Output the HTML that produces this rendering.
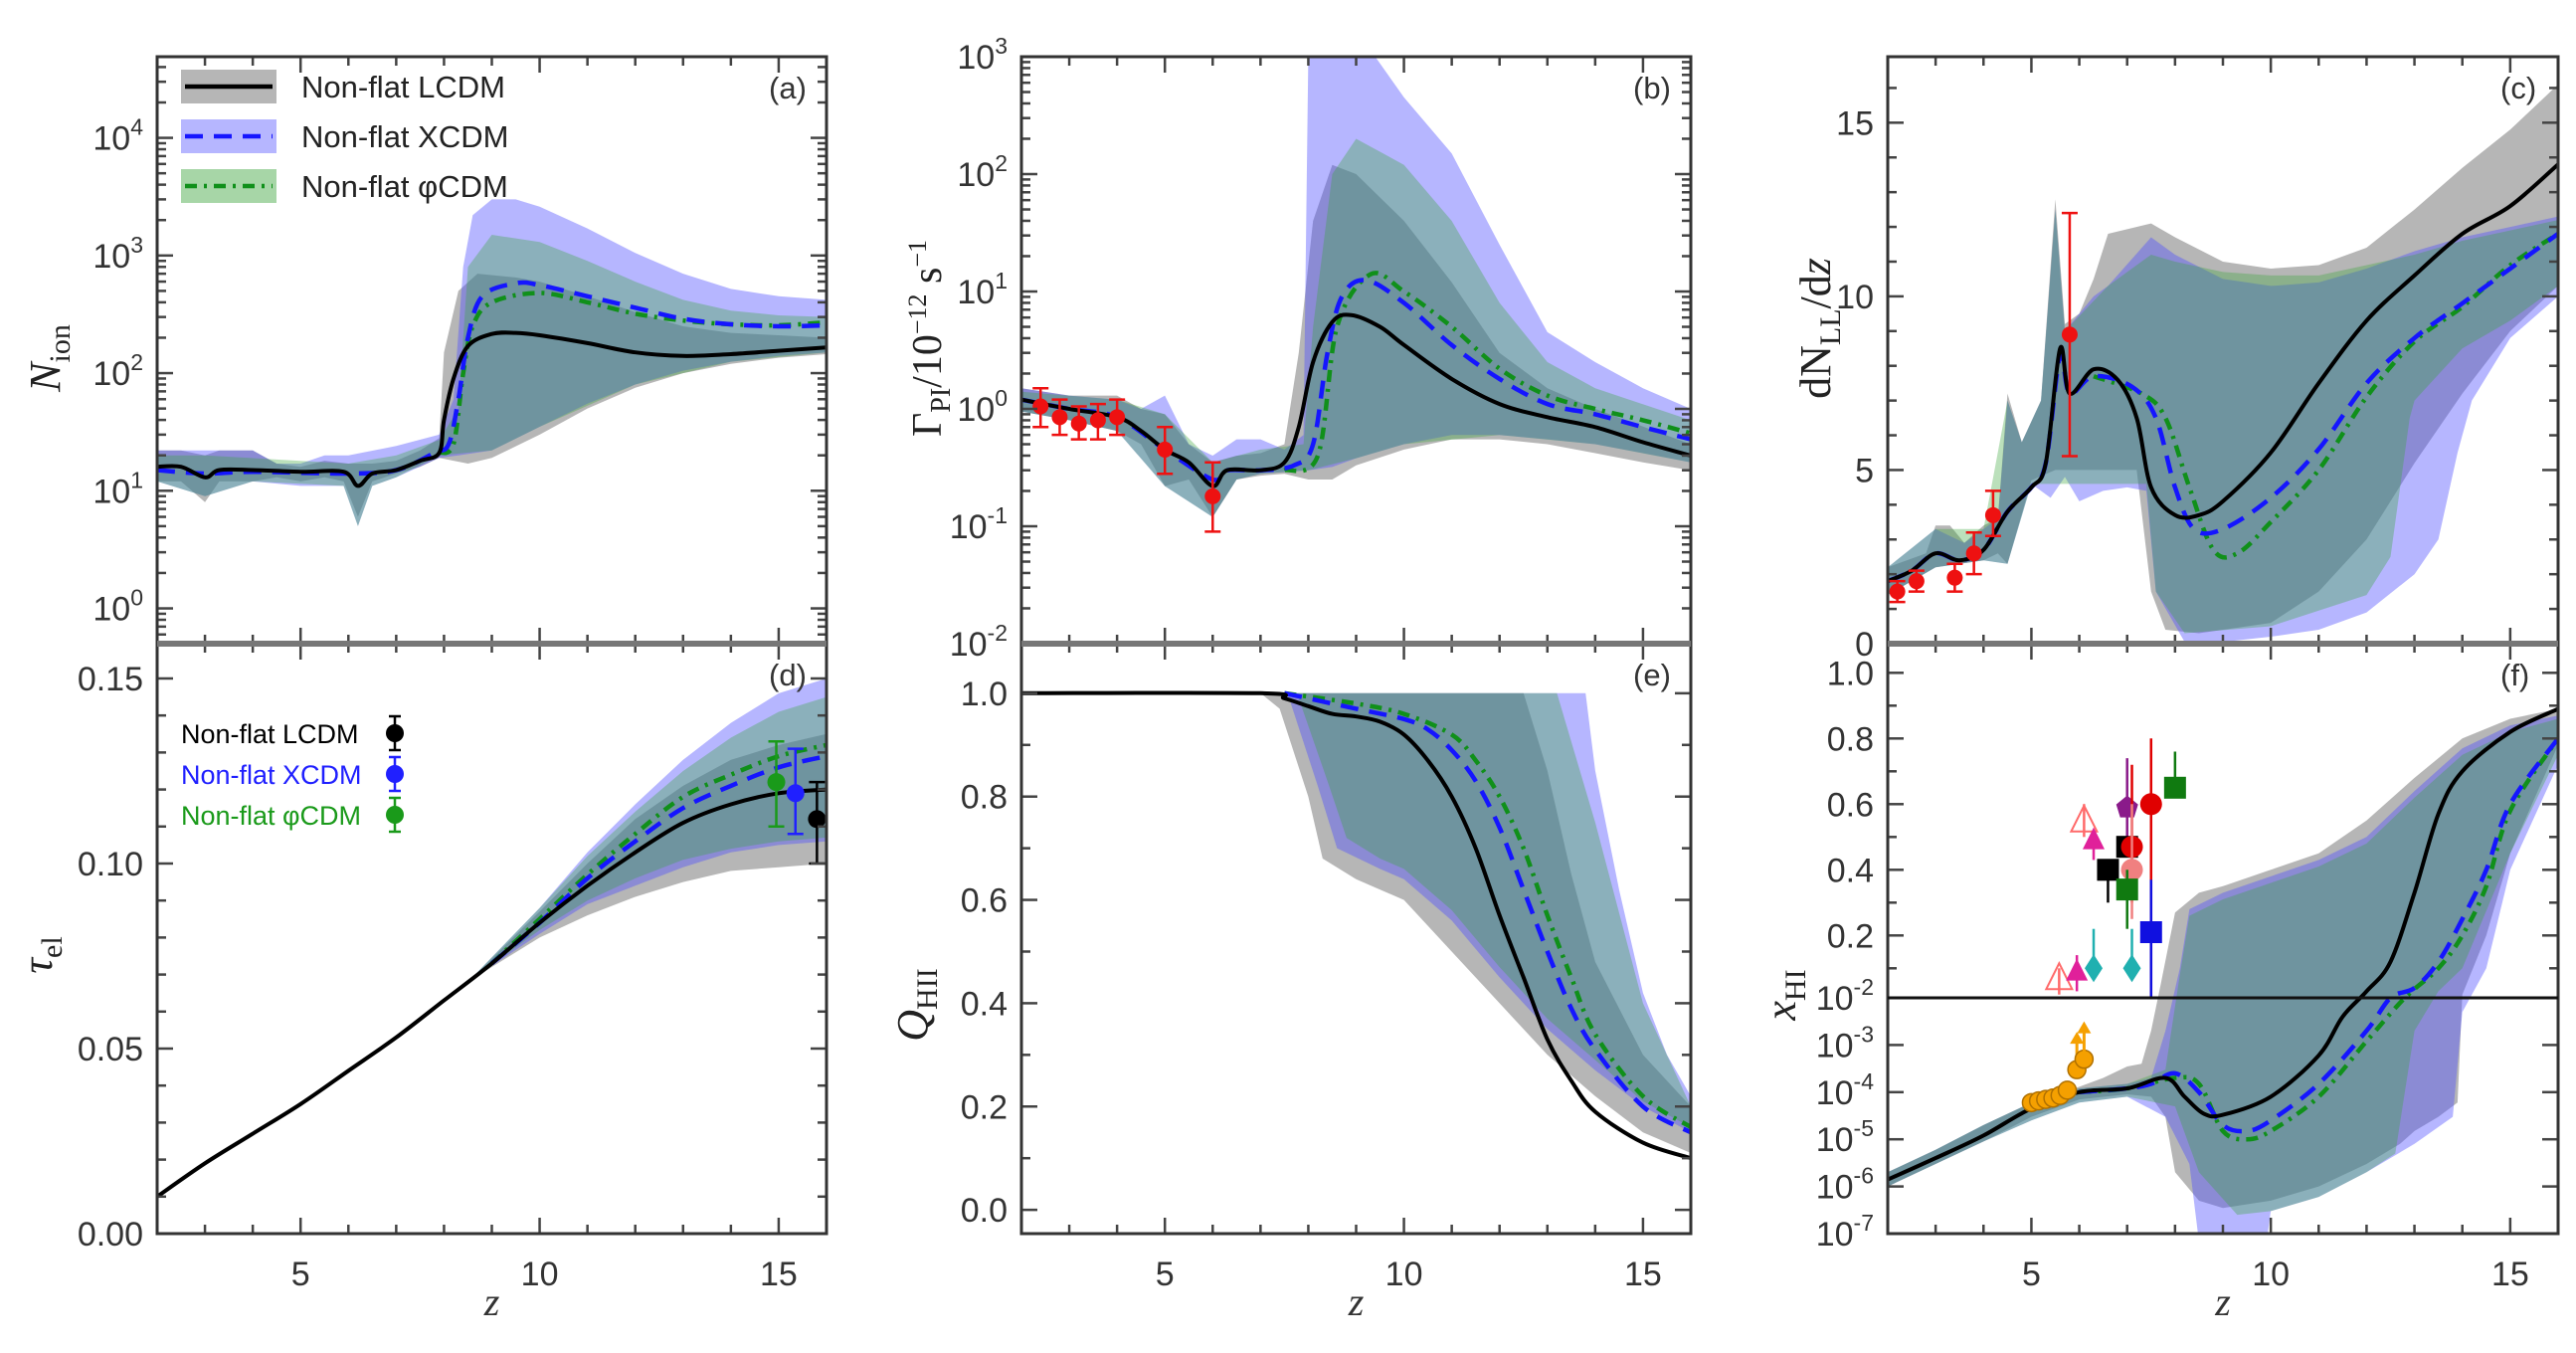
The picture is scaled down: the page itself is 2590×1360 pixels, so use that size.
<!DOCTYPE html>
<html><head><meta charset="utf-8"><style>
html,body{margin:0;padding:0;background:#fff;}
svg{display:block;font-family:"Liberation Sans",sans-serif;}
</style></head><body>
<svg id="fig" width="2590" height="1360" viewBox="0 0 2590 1360" xmlns="http://www.w3.org/2000/svg"></svg>
<script>
// ===== DATA =====
const zTicksMajor = [5, 10, 15];
// panel a: N_ion
const aLcdm = [[2,16],[2.5,16],[3,13],[3.3,15],[4,15],[5,14.5],[5.9,14.5],[6.2,11],[6.5,14],[7,15],[7.5,18],[7.9,21],[8.0,40],[8.2,90],[8.5,170],[9,215],[9.5,220],[10,210],[11,180],[12,150],[13,140],[14,145],[15,155],[16,165]];
const aXcdm = [[2,15],[3,14],[4,14.5],[6,14],[7,15],[7.8,21],[8.1,25],[8.3,60],[8.5,200],[8.8,450],[9.5,580],[10,560],[11,450],[12,360],[13,290],[14,260],[15,250],[16,255]];
const aPhi = [[7.9,21],[8.2,25],[8.4,100],[8.6,250],[9,400],[10,480],[11,400],[12,320],[13,280],[14,260],[15,255],[16,270]];
const aGrayHi = [[2,22],[2.5,22],[3,20],[3.3,22],[4,22],[4.5,17],[5,16],[5.5,18],[6,17],[6.5,17],[7,18],[7.5,22],[7.9,28],[8.0,150],[8.3,500],[8.7,700],[9.5,650],[10,600],[11,450],[12,330],[13,250],[14,220],[15,210],[16,200]];
const aGrayLo = [[2,12],[2.5,12],[3,8],[3.3,12],[4,12],[4.5,13],[5,12],[5.5,13],[5.9,12],[6.2,6],[6.5,12],[7,14],[7.5,16],[7.9,19],[8.2,18],[8.5,17],[9,19],[10,30],[11,50],[12,75],[13,100],[14,120],[15,135],[16,145]];
const aBlueHi = [[2,22],[3,22],[4,22],[4.5,17],[5,17],[5.5,20],[6,20],[7,24],[7.9,30],[8.2,60],[8.4,800],[8.6,2200],[9,3000],[9.5,3000],[10,2600],[11,1700],[12,1050],[13,700],[14,520],[15,450],[16,420]];
const aBlueLo = [[2,12],[3,9],[4,12],[5,11],[5.9,11],[6.2,5],[6.5,11],[7,13],[7.9,19],[8.3,20],[9,22],[10,35],[11,55],[12,80],[13,105],[14,125],[15,140],[16,150]];
const aGreenHi = [[2,20],[3,20],[6,17],[7,20],[7.9,27],[8.3,50],[8.5,800],[9,1500],[10,1300],[11,900],[12,600],[13,420],[14,340],[15,310],[16,300]];
const aGreenLo = [[2,12],[3,9],[4,12],[5.9,11],[6.2,5],[6.5,11],[7,13],[7.9,20],[9,22],[10,35],[12,80],[14,125],[16,150]];
// panel b: Gamma_PI
const bLcdm = [[2,1.2],[3,1.0],[4,0.85],[4.5,0.65],[5,0.45],[5.5,0.35],[6,0.22],[6.3,0.3],[7,0.3],[7.5,0.35],[7.8,0.7],[8.1,2.5],[8.5,5.5],[8.9,6.3],[9.5,5],[10,3.5],[11,1.8],[12,1.1],[13,0.85],[14,0.7],[15,0.52],[16,0.4]];
const bXcdm = [[2,1.2],[3,1.0],[4,0.85],[5,0.45],[6,0.25],[6.3,0.3],[7,0.3],[7.7,0.33],[8.1,0.5],[8.4,3],[8.7,9],[9.2,12.5],[10,8],[11,3.5],[12,1.8],[13,1.1],[14,0.9],[15,0.7],[16,0.55]];
const bPhi = [[7.5,0.3],[8.2,0.4],[8.6,5],[9.3,14],[10,10],[11,5],[12,2.2],[13,1.3],[14,1.0],[15,0.8],[16,0.62]];
const bGrayHi = [[2,1.5],[3,1.3],[4,1.3],[4.5,1.0],[5,0.9],[5.5,0.5],[6,0.35],[6.5,0.4],[7,0.42],[7.5,0.5],[7.8,3],[8.1,40],[8.5,120],[9,100],[10,40],[11,12],[12,3],[13,1.5],[14,1.0],[16,0.5]];
const bGrayLo = [[2,0.95],[3,0.8],[4,0.65],[4.5,0.5],[5,0.22],[5.5,0.25],[6,0.12],[6.5,0.25],[7,0.27],[7.5,0.28],[8,0.25],[8.5,0.25],[9,0.33],[10,0.45],[11,0.55],[12,0.55],[13,0.5],[14,0.42],[15,0.35],[16,0.3]];
const bBlueHi = [[2,1.5],[3,1.3],[4,1.2],[4.5,1.0],[5,1.3],[5.5,0.5],[6,0.4],[6.5,0.55],[7,0.55],[7.5,0.45],[7.9,0.6],[8.0,1000],[9.4,1000],[10,450],[11,150],[12,25],[13,4.5],[14,2.5],[15,1.5],[16,1.0]];
const bBlueLo = [[2,0.95],[3,0.8],[4,0.65],[5,0.22],[6,0.12],[6.5,0.25],[7,0.28],[8,0.3],[8.5,0.32],[9,0.38],[10,0.5],[11,0.6],[12,0.6],[13,0.55],[14,0.5],[15,0.42],[16,0.35]];
const bGreenHi = [[2,1.4],[4,1.2],[5,0.9],[6,0.35],[7,0.45],[7.9,0.5],[8.1,5],[8.5,100],[9,200],[10,120],[11,40],[12,8],[13,2.5],[14,1.5],[16,0.8]];
const bGreenLo = [[2,0.95],[3,0.8],[4,0.65],[5,0.22],[6,0.12],[6.5,0.25],[7,0.28],[8,0.3],[9,0.38],[10,0.5],[12,0.6],[14,0.5],[16,0.35]];
const bObsZ = [2.4,2.8,3.2,3.6,4.0,5.0,6.0];
const bObsV = [1.05,0.85,0.75,0.8,0.85,0.45,0.18];
const bObsLo = [0.7,0.6,0.55,0.55,0.6,0.28,0.09];
const bObsHi = [1.5,1.2,1.05,1.1,1.2,0.7,0.35];
// panel c: dN_LL/dz
const cLcdm = [[2,1.8],[2.5,2.1],[3,2.6],[3.5,2.4],[4,2.7],[4.5,3.8],[5,4.5],[5.3,5.2],[5.6,8.5],[5.8,7.2],[6.3,7.9],[6.8,7.6],[7.2,6.5],[7.5,4.5],[8,3.7],[8.5,3.7],[9,4.1],[10,5.5],[11,7.5],[12,9.3],[13,10.6],[14,11.8],[15,12.6],[16,13.8]];
const cXcdm = [[2,1.8],[2.5,2.1],[3,2.6],[3.5,2.4],[4,2.7],[4.5,3.8],[5,4.5],[5.3,5.2],[5.6,8.3],[5.8,7.2],[6.3,7.7],[7.1,7.4],[7.6,6.5],[8,4.5],[8.4,3.3],[9,3.3],[10,4.2],[11,5.6],[12,7.5],[13,8.8],[14,9.8],[15,10.8],[16,11.8]];
const cPhi = [[6.3,7.7],[7.3,7.2],[7.8,6.5],[8.3,4.5],[8.8,2.7],[9.3,2.6],[10,3.5],[11,5.0],[12,7.1],[13,8.7],[14,9.7],[15,10.9],[16,11.8]];
const cGrayHi = [[2,2.2],[2.8,2.6],[3,3.4],[3.3,3.4],[3.6,2.9],[4,3.4],[4.3,3.6],[4.5,7.2],[4.8,5.8],[5.2,7.0],[5.5,12.8],[5.7,9.2],[6,9.5],[6.3,10.5],[6.6,11.8],[7.5,12.1],[8,11.7],[9,11.0],[10,10.8],[11,10.9],[12,11.4],[13,12.5],[14,13.7],[15,14.8],[16,16.1]];
const cGrayLo = [[2,1.4],[3,2.2],[4,2.4],[4.3,2.6],[4.5,2.3],[5,4.7],[5.5,5.0],[7.2,5.0],[7.5,1.5],[7.8,0.4],[8.5,0.3],[10,0.6],[11,1.5],[12,3.0],[13,5.2],[14,7.2],[15,9.0],[16,10.3]];
const cBlueHi = [[2,2.2],[3,3.3],[3.6,2.9],[4,3.3],[4.3,3.6],[4.5,7.0],[4.8,5.8],[5.2,7.0],[5.5,12.5],[5.7,9.0],[6.3,10.0],[6.6,10.3],[7.5,11.7],[8,11.2],[9,10.5],[10,10.3],[11,10.4],[12,10.8],[13,11.3],[14,11.7],[15,12.0],[16,12.3]];
const cBlueLo = [[2,1.4],[3,2.2],[4,2.4],[4.5,2.3],[5,4.6],[5.4,4.2],[5.7,4.8],[6,4.1],[6.5,4.4],[7,4.5],[7.4,4.4],[7.6,1.5],[8.2,0.05],[9,0.05],[10,0.2],[11,0.4],[12,0.9],[13,2.0],[13.5,3.0],[13.9,5.5],[14.2,7.0],[15,8.8],[16,10.0]];
const cGreenHi = [[2,2.2],[3,3.3],[4,3.3],[4.5,7.0],[4.8,5.8],[5.2,7.0],[5.5,12.5],[5.7,9.0],[6.6,10.3],[7.5,11.2],[8,11.0],[9,10.7],[10,10.6],[11,10.6],[12,10.9],[13,11.2],[14,11.6],[15,11.9],[16,12.2]];
const cGreenLo = [[2,1.4],[3,2.2],[4,2.4],[4.5,2.3],[5,4.6],[6,4.6],[7.4,4.6],[7.6,1.5],[8.2,0.3],[10,0.5],[12,1.4],[12.5,2.5],[12.9,6.5],[13,7],[14,8.5],[15,9.3],[16,10.3]];
const cObsZ = [2.2,2.6,3.4,3.8,4.2,5.8];
const cObsV = [1.5,1.8,1.9,2.6,3.7,8.9];
const cObsLo = [1.2,1.5,1.5,2.0,3.1,5.4];
const cObsHi = [1.8,2.1,2.3,3.2,4.4,12.4];
// panel d: tau_el
const dLcdm = [[2,0.010],[3,0.019],[4,0.027],[5,0.035],[6,0.044],[7,0.053],[8,0.063],[9,0.073],[10,0.084],[11,0.094],[12,0.103],[13,0.111],[14,0.116],[15,0.119],[16,0.120]];
const dXcdm = [[9,0.073],[10,0.084],[11,0.096],[12,0.106],[13,0.115],[14,0.121],[15,0.126],[16,0.129]];
const dPhi = [[9,0.073],[10,0.085],[11,0.097],[12,0.108],[13,0.118],[14,0.124],[15,0.129],[16,0.132]];
const dGrayHi = [[8.5,0.068],[10,0.087],[11,0.100],[12,0.112],[13,0.121],[14,0.128],[15,0.132],[16,0.135]];
const dGrayLo = [[8.5,0.068],[10,0.080],[11,0.086],[12,0.091],[13,0.095],[14,0.098],[15,0.099],[16,0.100]];
const dBlueHi = [[8.5,0.068],[10,0.088],[11,0.103],[12,0.116],[13,0.128],[14,0.138],[15,0.146],[16,0.150]];
const dBlueLo = [[8.5,0.068],[10,0.081],[11,0.089],[12,0.094],[13,0.099],[14,0.103],[15,0.105],[16,0.106]];
const dGreenHi = [[8.5,0.068],[10,0.088],[11,0.102],[12,0.114],[13,0.125],[14,0.134],[15,0.141],[16,0.145]];
const dGreenLo = [[8.5,0.068],[10,0.082],[11,0.090],[12,0.096],[13,0.101],[14,0.104],[15,0.106],[16,0.107]];
const dObsZ = [15.8,15.35,14.95];
const dObsV = [0.112,0.119,0.122];
const dObsLo = [0.100,0.108,0.110];
const dObsHi = [0.122,0.131,0.133];
// panel e: Q_HII
const eLcdm = [[2,1],[7,1],[7.5,0.99],[8,0.975],[8.5,0.96],[9,0.955],[9.5,0.945],[10,0.92],[10.5,0.87],[11,0.8],[11.5,0.7],[12,0.57],[12.5,0.45],[13,0.33],[13.5,0.25],[14,0.19],[15,0.13],[16,0.1]];
const eXcdm = [[7.5,1],[8,0.99],[9,0.97],[10,0.95],[10.5,0.93],[11,0.89],[11.5,0.83],[12,0.74],[12.5,0.62],[13,0.5],[13.5,0.39],[14,0.31],[15,0.2],[16,0.15]];
const ePhi = [[7.5,1],[9,0.98],[10,0.96],[11,0.92],[11.5,0.87],[12,0.8],[12.5,0.7],[13,0.57],[13.5,0.45],[14,0.34],[15,0.22],[16,0.16]];
const eGrayHi = [[7,1],[12.5,1],[13,0.85],[13.5,0.65],[14,0.48],[15,0.3],[16,0.2]];
const eGrayLo = [[7,1],[7.4,0.97],[8,0.8],[8.3,0.68],[9,0.64],[10,0.6],[11,0.5],[12,0.4],[13,0.3],[14,0.22],[15,0.15],[16,0.11]];
const eBlueHi = [[7.5,1],[13.8,1],[14,0.85],[14.5,0.62],[15,0.42],[15.5,0.3],[16,0.22]];
const eBlueLo = [[7.5,1],[7.6,0.99],[8.2,0.82],[8.6,0.70],[9.5,0.66],[10,0.64],[11,0.56],[12,0.45],[13,0.35],[14,0.27],[15,0.2],[16,0.15]];
const eGreenHi = [[7.5,1],[13.2,1],[14,0.75],[15,0.4],[16,0.2]];
const eGreenLo = [[7.5,1],[7.8,0.99],[8.4,0.83],[8.8,0.72],[9.5,0.68],[10,0.66],[11,0.58],[12,0.47],[13,0.37],[14,0.29],[15,0.21],[16,0.16]];
// panel f: x_HI
const fLcdm = [[2,1.4e-6],[3,4e-6],[4,1.2e-5],[5,4.5e-5],[6,1e-4],[7,1.2e-4],[7.8,2e-4],[8.2,8e-5],[8.6,3.5e-5],[9,3.3e-5],[10,8e-5],[11,6e-4],[11.5,4e-3],[12,0.03],[12.5,0.12],[13,0.33],[13.5,0.57],[14,0.7],[15,0.82],[16,0.89]];
const fXcdm = [[6,1e-4],[7,1.2e-4],[7.5,1.5e-4],[8,2.5e-4],[8.5,1e-4],[9,2e-5],[9.5,1.5e-5],[10,2.5e-5],[11,1.5e-4],[12,2e-3],[12.5,0.01],[13,0.04],[13.5,0.12],[14,0.25],[14.5,0.4],[15,0.6],[16,0.8]];
const fPhi = [[6,1e-4],[7,1.2e-4],[8,2e-4],[8.5,1.5e-4],[9,1.5e-5],[9.5,1e-5],[10,1.5e-5],[11,8e-5],[12,1.2e-3],[12.8,0.01],[13.5,0.1],[14,0.2],[14.5,0.35],[15,0.58],[16,0.8]];
const fGrayHi = [[2,2e-6],[3,6e-6],[4,2e-5],[5,6e-5],[6,1.3e-4],[6.5,2e-4],[7,3.5e-4],[7.3,4e-4],[7.5,2e-3],[7.7,0.05],[8,0.27],[8.5,0.33],[9,0.35],[10,0.4],[11,0.45],[12,0.55],[13,0.68],[14,0.8],[15,0.86],[16,0.89]];
const fGrayLo = [[2,1e-6],[3,3e-6],[4,9e-6],[5,3e-5],[6,7e-5],[7,9e-5],[7.5,8e-5],[7.8,3e-5],[8,2e-6],[8.5,5e-7],[9,3.5e-7],[10,5e-7],[11,1e-6],[12,3e-6],[12.7,8e-6],[13,1.5e-5],[13.5,3e-5],[13.9,6e-5],[14,0.02],[14.5,0.2],[15,0.45],[16,0.78]];
const fBlueHi = [[2,2e-6],[3,6e-6],[4,2e-5],[5,6e-5],[6,1.2e-4],[7,1.5e-4],[7.5,2e-4],[7.8,2e-3],[8.1,0.1],[8.3,0.28],[9,0.33],[10,0.38],[11,0.43],[12,0.5],[13,0.64],[14,0.77],[15,0.84],[16,0.87]];
const fBlueLo = [[2,1e-6],[3,3e-6],[4,9e-6],[5,2.5e-5],[6,6e-5],[7,8e-5],[7.8,3e-5],[8.3,3e-6],[8.6,1e-8],[9.8,1e-8],[10,3e-7],[11,6e-7],[12,2e-6],[13,8e-6],[13.8,3e-5],[14,0.005],[14.5,0.1],[15,0.4],[16,0.72]];
const fGreenHi = [[2,2e-6],[3,6e-6],[4,2e-5],[5,6e-5],[6,1.2e-4],[7,1.5e-4],[7.8,3e-4],[8.1,0.08],[8.3,0.26],[9,0.31],[10,0.36],[11,0.41],[12,0.48],[13,0.62],[14,0.75],[15,0.82],[16,0.86]];
const fGreenLo = [[2,1e-6],[3,3e-6],[4,9e-6],[5,2.5e-5],[6,6e-5],[7,8e-5],[8,5e-5],[8.5,2e-6],[9.3,2.5e-7],[10,3e-7],[11,6e-7],[12,2e-6],[12.6,5e-6],[12.8,1e-4],[13,2e-3],[13.5,0.03],[14,0.1],[15,0.45],[16,0.75]];
const fOrangeZ = [5.0,5.15,5.3,5.45,5.6,5.75,5.95,6.1];
const fOrangeV = [6e-5,6.5e-5,7e-5,7.5e-5,8.5e-5,1.1e-4,3e-4,5e-4];
const fMarkZ = [5.58,6.1,5.95,6.3,6.3,7.1,6.6,7.0,7.0,7.1,7.1,7.0,7.5,7.5,8.0];
const fMarkV = [0.07,0.55,0.09,0.49,0.1,0.1,0.4,0.59,0.47,0.47,0.4,0.34,0.6,0.21,0.65];
const fMarkShape = ['otri','otri','tri','tri','dia','dia','sq','pent','sq','circ','circ','sq','circ','sq','sq'];
const fMarkColor = ['#ff6a6a','#ff6a6a','#e0209a','#e0209a','#20b0b0','#20b0b0','#000','#8a1a8a','#000','#e00000','#f08080','#107a10','#e00000','#1010e0','#107a10'];
const fMarkLo = [0.02,0.5,0.03,0.43,0.1,0.1,0.3,0.45,0.45,0.3,0.25,0.22,0.01,0.01,0.65];
const fMarkHi = [0.1,0.6,0.14,0.52,0.22,0.22,0.4,0.74,0.5,0.72,0.6,0.4,0.8,0.37,0.76];

// ===== LAYOUT / AXES =====
const NS = 'http://www.w3.org/2000/svg';
const svg = document.getElementById('fig');
function el(tag, attrs, parent) {
  const e = document.createElementNS(NS, tag);
  for (const k in attrs) e.setAttribute(k, attrs[k]);
  (parent || svg).appendChild(e);
  return e;
}
const Y0 = 57, YM = 647, YB = 1240;
const cols = [[158,831],[1027,1700],[1898,2572]];
function xMap(c) { const [l,r] = cols[c]; return z => l + (z - 2) / 14 * (r - l); }
function logMap(top, bot, lmin, lmax) { return v => bot - (Math.log10(v) - lmin) / (lmax - lmin) * (bot - top); }
function linMap(top, bot, vmin, vmax) { return v => bot - (v - vmin) / (vmax - vmin) * (bot - top); }
const FSPLIT = 1003;
function fMapY(v) { if (v >= 0.01) return FSPLIT - (v - 0.01) * 330; return logMap(FSPLIT, YB, -7, -2)(v); }
const panels = {
  a: {c:0, top:Y0, bot:YM, y: logMap(Y0, YM, -0.3, 4.69)},
  b: {c:1, top:Y0, bot:YM, y: logMap(Y0, YM, -2, 3)},
  c: {c:2, top:Y0, bot:YM, y: linMap(Y0, YM, 0, 16.9)},
  d: {c:0, top:YM, bot:YB, y: linMap(YM, YB, 0, 0.1594)},
  e: {c:1, top:YM, bot:YB, y: linMap(YM, YB, -0.046, 1.096)},
  f: {c:2, top:YM, bot:YB, y: fMapY}
};
const GRAY='rgba(110,110,110,0.5)', BLUE='rgba(80,80,255,0.42)', GREEN='rgba(60,165,60,0.35)';

function clipFor(key) {
  const p = panels[key], [l,r] = cols[p.c];
  const cp = el('clipPath', {id:'clip-'+key});
  el('rect', {x:l, y:p.top, width:r-l, height:p.bot-p.top}, cp);
  const g = el('g', {'clip-path':'url(#clip-'+key+')'});
  
  
  return g;
}
function band(g, key, hi, lo, fill, name) {
  const p = panels[key], X = xMap(p.c);
  const pts = hi.map(d => X(d[0]).toFixed(1)+','+p.y(d[1]).toFixed(1))
    .concat(lo.slice().reverse().map(d => X(d[0]).toFixed(1)+','+p.y(d[1]).toFixed(1)));
  const e = el('polygon', {points: pts.join(' '), fill: fill, stroke: 'none'}, g);
  
  
}
function smoothPath(P) {
  let d = 'M' + P[0][0].toFixed(1) + ',' + P[0][1].toFixed(1);
  for (let i = 0; i < P.length - 1; i++) {
    const p0 = P[Math.max(i-1,0)], p1 = P[i], p2 = P[i+1], p3 = P[Math.min(i+2,P.length-1)];
    const c1 = [p1[0] + (p2[0]-p0[0])/6, p1[1] + (p2[1]-p0[1])/6];
    const c2 = [p2[0] - (p3[0]-p1[0])/6, p2[1] - (p3[1]-p1[1])/6];
    d += ' C' + c1.map(v=>v.toFixed(1)).join(',') + ' ' + c2.map(v=>v.toFixed(1)).join(',') + ' ' + p2[0].toFixed(1) + ',' + p2[1].toFixed(1);
  }
  return d;
}
function line(g, key, data, style, name) {
  const p = panels[key], X = xMap(p.c);
  const P = data.map(d => [X(d[0]), p.y(d[1])]);
  const attrs = {d: smoothPath(P), fill:'none'};
  if (style === 'solid') { attrs.stroke = '#000'; attrs['stroke-width'] = 4; }
  if (style === 'dash') { attrs.stroke = '#1515ff'; attrs['stroke-width'] = 4.5; attrs['stroke-dasharray'] = '18,11'; }
  if (style === 'dashdot') { attrs.stroke = '#10901a'; attrs['stroke-width'] = 4.5; attrs['stroke-dasharray'] = '12,7,3,7'; }
  const e = el('path', attrs, g);
  
  
}
function errPoints(g, key, zs, vs, los, his, color, r, name) {
  const p = panels[key], X = xMap(p.c);
  for (let i = 0; i < zs.length; i++) {
    const x = X(zs[i]);
    const grp = el('g', {}, g);
    
    
    el('line', {x1:x, x2:x, y1:p.y(los[i]), y2:p.y(his[i]), stroke:color, 'stroke-width':2.5}, grp);
    el('line', {x1:x-8, x2:x+8, y1:p.y(los[i]), y2:p.y(los[i]), stroke:color, 'stroke-width':2.5}, grp);
    el('line', {x1:x-8, x2:x+8, y1:p.y(his[i]), y2:p.y(his[i]), stroke:color, 'stroke-width':2.5}, grp);
    el('circle', {cx:x, cy:p.y(vs[i]), r:r, fill:color}, grp);
  }
}
function drawPanel(key, s) {
  const g = clipFor(key);
  band(g, key, s.grayHi, s.grayLo, GRAY, 'lcdm-band-'+key);
  band(g, key, s.blueHi, s.blueLo, BLUE, 'xcdm-band-'+key);
  band(g, key, s.greenHi, s.greenLo, GREEN, 'phicdm-band-'+key);
  line(g, key, s.phi, 'dashdot', 'phicdm-line-'+key);
  line(g, key, s.xcdm, 'dash', 'xcdm-line-'+key);
  line(g, key, s.lcdm, 'solid', 'lcdm-line-'+key);
  return g;
}
const ga = drawPanel('a', {grayHi:aGrayHi, grayLo:aGrayLo, blueHi:aBlueHi, blueLo:aBlueLo, greenHi:aGreenHi, greenLo:aGreenLo, lcdm:aLcdm, xcdm:aXcdm, phi:aPhi});
const gb = drawPanel('b', {grayHi:bGrayHi, grayLo:bGrayLo, blueHi:bBlueHi, blueLo:bBlueLo, greenHi:bGreenHi, greenLo:bGreenLo, lcdm:bLcdm, xcdm:bXcdm, phi:bPhi});
errPoints(gb, 'b', bObsZ, bObsV, bObsLo, bObsHi, '#ee1111', 8, 'gamma-obs');
const gc = drawPanel('c', {grayHi:cGrayHi, grayLo:cGrayLo, blueHi:cBlueHi, blueLo:cBlueLo, greenHi:cGreenHi, greenLo:cGreenLo, lcdm:cLcdm, xcdm:cXcdm, phi:cPhi});
errPoints(gc, 'c', cObsZ, cObsV, cObsLo, cObsHi, '#ee1111', 8, 'dndz-obs');
const gd = drawPanel('d', {grayHi:dGrayHi, grayLo:dGrayLo, blueHi:dBlueHi, blueLo:dBlueLo, greenHi:dGreenHi, greenLo:dGreenLo, lcdm:dLcdm, xcdm:dXcdm, phi:dPhi});
errPoints(gd, 'd', [dObsZ[0]], [dObsV[0]], [dObsLo[0]], [dObsHi[0]], '#000', 9, 'tau-lcdm-point');
errPoints(gd, 'd', [dObsZ[1]], [dObsV[1]], [dObsLo[1]], [dObsHi[1]], '#2020ff', 9, 'tau-xcdm-point');
errPoints(gd, 'd', [dObsZ[2]], [dObsV[2]], [dObsLo[2]], [dObsHi[2]], '#1a9a1a', 9, 'tau-phicdm-point');
const ge = drawPanel('e', {grayHi:eGrayHi, grayLo:eGrayLo, blueHi:eBlueHi, blueLo:eBlueLo, greenHi:eGreenHi, greenLo:eGreenLo, lcdm:eLcdm, xcdm:eXcdm, phi:ePhi});
const gf = drawPanel('f', {grayHi:fGrayHi, grayLo:fGrayLo, blueHi:fBlueHi, blueLo:fBlueLo, greenHi:fGreenHi, greenLo:fGreenLo, lcdm:fLcdm, xcdm:fXcdm, phi:fPhi});
// f markers
(function(){
  const X = xMap(2);
  for (let i = 0; i < fOrangeZ.length; i++) {
    const x = X(fOrangeZ[i]), y = fMapY(fOrangeV[i]);
    const m = el('circle', {cx:x, cy:y, r:9, fill:'#f5a000', stroke:'#b07000', 'stroke-width':1.5}, gf);
    
    
    if (i >= 6) {
      el('line', {x1:x, x2:x, y1:y, y2:y-30, stroke:'#f5a000', 'stroke-width':3}, gf);
      el('polygon', {points:(x-7)+','+(y-26)+' '+(x+7)+','+(y-26)+' '+x+','+(y-38), fill:'#f5a000'}, gf);
    }
  }
  for (let i = 0; i < fMarkZ.length; i++) {
    const x = X(fMarkZ[i]), y = fMapY(fMarkV[i]), col = fMarkColor[i], sh = fMarkShape[i];
    el('line', {x1:x, x2:x, y1:fMapY(fMarkLo[i]), y2:fMapY(fMarkHi[i]), stroke:col, 'stroke-width':2.5}, gf);
    let m;
    if (sh === 'circ') m = el('circle', {cx:x, cy:y, r:11, fill:col}, gf);
    else if (sh === 'sq') m = el('rect', {x:x-11, y:y-11, width:22, height:22, fill:col}, gf);
    else if (sh === 'tri') m = el('polygon', {points:(x-11)+','+(y+9)+' '+(x+11)+','+(y+9)+' '+x+','+(y-13), fill:col}, gf);
    else if (sh === 'otri') m = el('polygon', {points:(x-13)+','+(y+11)+' '+(x+13)+','+(y+11)+' '+x+','+(y-15), fill:'none', stroke:col, 'stroke-width':2}, gf);
    else if (sh === 'dia') m = el('polygon', {points:x+','+(y-14)+' '+(x+9)+','+y+' '+x+','+(y+14)+' '+(x-9)+','+y, fill:col}, gf);
    else m = el('polygon', {points:x+','+(y-12)+' '+(x+11)+','+(y-3)+' '+(x+7)+','+(y+10)+' '+(x-7)+','+(y+10)+' '+(x-11)+','+(y-3), fill:col}, gf);
    
    
  }
})();

// ===== FRAMES, TICKS, LABELS =====
function txt(x, y, s, attrs, parent) {
  const t = el('text', Object.assign({x:x, y:y}, attrs), parent);
  t.textContent = s;
  return t;
}
function sci(x, y, exp, name) {
  const t = el('text', {x:x, y:y, 'text-anchor':'end', 'font-size':34, fill:'#333'});
  
  
  const a = el('tspan', {}, t); a.textContent = '10';
  const b = el('tspan', {dy:-15, 'font-size':23}, t); b.textContent = String(exp);
}
function xTicks(key, withLabels) {
  const p = panels[key], X = xMap(p.c);
  for (let z = 3; z <= 15; z++) {
    const len = (z % 5 === 0) ? 16 : 9;
    el('line', {x1:X(z), x2:X(z), y1:p.bot, y2:p.bot-len, stroke:'#444', 'stroke-width':2.5});
    el('line', {x1:X(z), x2:X(z), y1:p.top, y2:p.top+len, stroke:'#444', 'stroke-width':2.5});
  }
  if (withLabels) zTicksMajor.forEach(z => {
    const t = txt(X(z), p.bot+52, String(z), {'text-anchor':'middle', 'font-size':34, fill:'#333'});
    
    
  });
}
function yTick(key, y, major) {
  const [l,r] = cols[panels[key].c], len = major ? 16 : 9;
  el('line', {x1:l, x2:l+len, y1:y, y2:y, stroke:'#444', 'stroke-width':2.5});
  el('line', {x1:r, x2:r-len, y1:y, y2:y, stroke:'#444', 'stroke-width':2.5});
}
function yLabel(key, y, s) {
  const [l] = cols[panels[key].c];
  const t = txt(l-14, y+12, s, {'text-anchor':'end', 'font-size':34, fill:'#333'});
  
  
}
[['a',-0.3,4.69,[0,1,2,3,4]],['b',-2,3,[-2,-1,0,1,2,3]]].forEach(([k,lo,hi,labs]) => {
  const p = panels[k], [l] = cols[p.c];
  for (let d = Math.floor(lo); d <= Math.ceil(hi); d++) {
    for (let m = 1; m <= 9; m++) {
      const v = m * Math.pow(10, d), lv = Math.log10(v);
      if (lv < lo || lv > hi) continue;
      yTick(k, p.y(v), m === 1);
    }
  }
  labs.forEach(e => sci(l-14, p.y(Math.pow(10,e))+12, e, 'y-tick-label-'+k));
});
for (let v = 0; v <= 16; v++) yTick('c', panels.c.y(v), v % 5 === 0);
[0,5,10,15].forEach(v => yLabel('c', panels.c.y(v), String(v)));
for (let i = 0; i <= 15; i++) yTick('d', panels.d.y(i/100), i % 5 === 0);
['0.00','0.05','0.10','0.15'].forEach(s => yLabel('d', panels.d.y(+s), s));
for (let i = 0; i <= 10; i++) yTick('e', panels.e.y(i/10), i % 2 === 0);
['0.0','0.2','0.4','0.6','0.8','1.0'].forEach(s => yLabel('e', panels.e.y(+s), s));
for (let i = 1; i <= 10; i++) yTick('f', fMapY(i/10), i % 2 === 0);
['0.2','0.4','0.6','0.8','1.0'].forEach(s => yLabel('f', fMapY(+s), s));
[-3,-4,-5,-6,-7].forEach(e => { yTick('f', fMapY(Math.pow(10,e)), true); sci(cols[2][0]-14, fMapY(Math.pow(10,e))+12, e, 'y-tick-label-f'); });
sci(cols[2][0]-14, FSPLIT+12, -2, 'y-tick-label-f');
['a','b','c'].forEach(k => xTicks(k, false));
['d','e','f'].forEach(k => xTicks(k, true));
cols.forEach((c, i) => {
  const f = el('rect', {x:c[0], y:Y0, width:c[1]-c[0], height:YB-Y0, fill:'none', stroke:'#333', 'stroke-width':3});
  
  
  el('line', {x1:c[0], x2:c[1], y1:YM, y2:YM, stroke:'#777', 'stroke-width':6});
});
el('line', {x1:cols[2][0], x2:cols[2][1], y1:FSPLIT, y2:FSPLIT, stroke:'#111', 'stroke-width':3});
['a','b','c','d','e','f'].forEach(k => {
  const p = panels[k], [, r] = cols[p.c];
  const t = txt(r-58, p.top+42, '('+k+')', {'font-size':31, fill:'#333'});
  
  
});
cols.forEach((c, i) => {
  const t = txt((c[0]+c[1])/2, 1322, 'z', {'text-anchor':'middle', 'font-size':40, 'font-style':'italic', 'font-family':'"Liberation Serif",serif', fill:'#333'});
  
  
});
function yTitle(x, y, parts, name, fs) {
  const t = el('text', {x:0, y:0, transform:'translate('+x+','+y+') rotate(-90)', 'text-anchor':'middle', 'font-size':fs || 44, 'font-family':'"Liberation Serif",serif', fill:'#222'});
  
  
  parts.forEach(pt => {
    const s = el('tspan', pt[1] || {}, t);
    s.textContent = pt[0];
  });
}
yTitle(60, 360, [['N',{'font-style':'italic'}],['ion',{dy:10,'font-size':30}]], 'y-axis-title-a');
yTitle(946, 340, [['Γ'],['PI',{dy:9,'font-size':28}],['/10',{dy:-9}],['−12',{dy:-15,'font-size':26}],[' s',{dy:15}],['−1',{dy:-15,'font-size':26}]], 'y-axis-title-b', 42);
yTitle(1840, 330, [['dN'],['LL',{dy:10,'font-size':30}],['/d',{dy:-10}],['z',{'font-style':'italic'}]], 'y-axis-title-c');
yTitle(52, 960, [['τ',{'font-style':'italic'}],['el',{dy:10,'font-size':30}]], 'y-axis-title-d');
yTitle(932, 1010, [['Q',{'font-style':'italic'}],['HII',{dy:10,'font-size':30}]], 'y-axis-title-e');
yTitle(1805, 1000, [['x',{'font-style':'italic'}],['HI',{dy:10,'font-size':30}]], 'y-axis-title-f');
const legA = el('g', {});


[['Non-flat LCDM', GRAY, 'solid'], ['Non-flat XCDM', BLUE, 'dash'], ['Non-flat φCDM', 'rgba(60,165,60,0.45)', 'dashdot']].forEach((it, i) => {
  const y = 87 + i * 50;
  const r = el('rect', {x:182, y:y-17, width:96, height:34, fill:it[1]}, legA);
  
  
  const st = {solid:{stroke:'#000'}, dash:{stroke:'#1515ff','stroke-dasharray':'18,11'}, dashdot:{stroke:'#10901a','stroke-dasharray':'12,7,3,7'}}[it[2]];
  el('line', Object.assign({x1:186, x2:274, y1:y, y2:y, 'stroke-width':4.5}, st), legA);
  const t = txt(303, y+11, it[0], {'font-size':31, fill:'#222'}, legA);
  
  
});
const legD = el('g', {});


[['Non-flat LCDM','#000'],['Non-flat XCDM','#2020ff'],['Non-flat φCDM','#1a9a1a']].forEach((it, i) => {
  const y = 737 + i * 41;
  const t = txt(182, y+10, it[0], {'font-size':27, fill:it[1]}, legD);
  
  
  el('line', {x1:397, x2:397, y1:y-17, y2:y+17, stroke:it[1], 'stroke-width':2.5}, legD);
  el('line', {x1:391, x2:403, y1:y-17, y2:y-17, stroke:it[1], 'stroke-width':2.5}, legD);
  el('line', {x1:391, x2:403, y1:y+17, y2:y+17, stroke:it[1], 'stroke-width':2.5}, legD);
  el('circle', {cx:397, cy:y, r:9, fill:it[1]}, legD);
});
</script>
</body></html>
